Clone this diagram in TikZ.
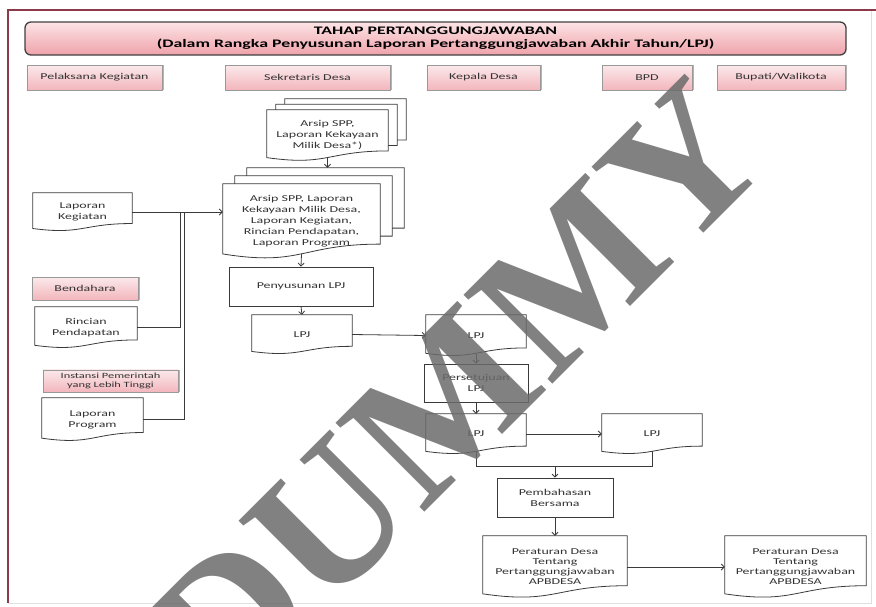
\documentclass[tikz,border=0pt]{standalone}
\usepackage{fontspec}
\setmainfont{Carlito}[FakeStretch=1.55]
\newfontfamily\markfont{Liberation Serif}
\usepackage{tikz}
\usetikzlibrary{shapes,arrows.meta,calc,shadows}

\definecolor{framered}{HTML}{8A3A48}
\definecolor{pinktop}{HTML}{FCE4E6}
\definecolor{pinkbot}{HTML}{EFA2AA}
\definecolor{lanetop}{HTML}{FBE9EB}
\definecolor{lanebot}{HTML}{F2B6BC}
\definecolor{edgegray}{HTML}{3A3A3A}

\tikzset{fontscale/.style = {font=\fontsize{9}{11}\selectfont, text=black!80}}
\tikzstyle{titlebar}=[rectangle, rounded corners=6pt, draw=black!75, line width=1.3pt, top color=pinktop, bottom color=pinkbot, align=center, font=\bfseries\fontsize{11.5}{13}\selectfont]
\tikzstyle{lane}=[rectangle, draw=black!40, top color=lanetop, bottom color=lanebot, minimum height=25pt, align=center, fontscale, drop shadow={shadow xshift=1.5pt, shadow yshift=0pt, opacity=0.6}]
\tikzstyle{docnode}=[rectangle, inner sep=1pt, align=center, fontscale]
\tikzstyle{proc}=[rectangle, draw=edgegray, line width=0.8pt, inner sep=1pt, align=center, fontscale]
\tikzstyle{docedge}=[draw=edgegray, line width=0.8pt]
\tikzstyle{watermark}=[text=black!58, text opacity=0.85, font=\markfont\bfseries\fontsize{192}{192}\selectfont]

% document outline round a named node
\newcommand{\docshape}[1]{%
  \coordinate (#1-r) at ($(#1.north east)!0.8!(#1.south east)$);
  \draw[docedge] (#1.north west) -- (#1.north east) -- (#1-r)
    .. controls ($(#1.north)!0.8!(#1.south)$) and ($(#1.north)!1.1!(#1.south)$) .. ($(#1.north west)!0.93!(#1.south west)$) -- cycle;
  \coordinate (#1-b) at ($(#1.north)!0.93!(#1.south)$);}

% two sheets behind a document
\newcommand{\docstack}[3]{%
  \foreach \k in {1,2} {
    \draw[docedge] ($(#1.north west)+({\k*#2},{-(\k-1)*#3})$) -- ($(#1.north west)+({\k*#2},{-\k*#3})$)
      -- ($(#1.north east)+({\k*#2},{-\k*#3})$) -- ($(#1-r)+({\k*#2},{-\k*#3})$)
      -- ($(#1-r)+({(\k-1)*#2},{-\k*#3})$);
  }
  \coordinate (#1-top) at ($(#1.north)+(0,{-2*#3})$);}

\begin{document}
\begin{tikzpicture}[x=1pt, y=-1pt, flow/.style={draw=edgegray, line width=0.8pt, -{Straight Barb[length=3pt,width=6pt]}}, wire/.style={draw=edgegray, line width=0.8pt}]

\useasboundingbox (0,0) rectangle (876,606);

% frame
\draw[gray!25, line width=1pt] (871,10) -- (871,603) -- (8,603);
\draw[framered, line width=1.5pt] (8,603) -- (8,10) -- (876,10);

% title and lanes
\node[titlebar, minimum width=821pt, minimum height=33pt] (title) at (435.5,38.5) {TAHAP PERTANGGUNGJAWABAN\\(Dalam Rangka Penyusunan Laporan Pertanggungjawaban Akhir Tahun/LPJ)};

\node[lane, minimum width=135pt] (lpk) at (94.5,77.5) {Pelaksana Kegiatan};
\node[lane, minimum width=165pt] (lsek) at (307.5,77.5) {Sekretaris Desa};
\node[lane, minimum width=113pt] (lkep) at (483.5,77.5) {Kepala Desa};
\node[lane, minimum width=90pt] (lbpd) at (647,77.5) {BPD};
\node[lane, minimum width=128pt] (lbup) at (781,77.5) {Bupati/Walikota};

\node[lane, minimum width=106pt, minimum height=23pt] (bendahara) at (85,288.5) {Bendahara};
\node[lane, minimum width=135pt, minimum height=22pt, font=\fontsize{8}{9}\selectfont] (instansi) at (110.5,381) {Instansi Pemerintah\\yang Lebih Tinggi};

% documents
\node[docnode, minimum width=99pt, minimum height=38pt] (kegiatan) at (82.5,212) {Laporan\\Kegiatan};
\docshape{kegiatan}
\node[docnode, minimum width=102pt, minimum height=41pt] (rincian) at (86,327.5) {Rincian\\Pendapatan};
\docshape{rincian}
\node[docnode, minimum width=101pt, minimum height=43pt] (program) at (92.5,419.5) {Laporan\\Program};
\docshape{program}

\node[docnode, minimum width=121pt, minimum height=51pt] (arsip1) at (327.5,135.5) {Arsip SPP,\\Laporan Kekayaan\\Milik Desa*)};
\docshape{arsip1}
\docstack{arsip1}{9}{5.5}
\node[docnode, minimum width=157pt, minimum height=75pt] (arsip2) at (301.5,221.5) {Arsip SPP, Laporan\\Kekayaan Milik Desa,\\Laporan Kegiatan,\\Rincian Pendapatan,\\Laporan Program};
\docshape{arsip2}
\docstack{arsip2}{12}{8}

\node[proc, minimum width=144pt, minimum height=39pt] (penyusun) at (301,286.5) {Penyusunan LPJ};
\node[docnode, minimum width=100pt, minimum height=39pt] (lpj1) at (302,334.5) {LPJ};
\docshape{lpj1}

\node[docnode, minimum width=100pt, minimum height=41pt] (lpj2) at (476,335.5) {LPJ};
\docshape{lpj2}
\node[proc, minimum width=104pt, minimum height=38pt] (setuju) at (476,383) {Persetujuan\\LPJ};
\node[docnode, minimum width=100pt, minimum height=40pt] (lpj3) at (476,434) {LPJ};
\docshape{lpj3}
\node[docnode, minimum width=100pt, minimum height=40pt] (lpj4) at (652,434) {LPJ};
\docshape{lpj4}

\node[proc, minimum width=116pt, minimum height=39pt] (bahas) at (555,497.5) {Pembahasan\\Bersama};
\node[docnode, minimum width=144pt, minimum height=62pt, font=\fontsize{9}{10}\selectfont] (perdes1) at (555,567) {Peraturan Desa\\Tentang\\Pertanggungjawaban\\APBDESA};
\docshape{perdes1}
\node[docnode, minimum width=141pt, minimum height=62pt, font=\fontsize{9}{10}\selectfont] (perdes2) at (795.5,567) {Peraturan Desa\\Tentang\\Pertanggungjawaban\\APBDESA};
\docshape{perdes2}

% joins
\coordinate (j1) at (180,212);
\coordinate (j2) at (184,212);
\coordinate (merge) at (555,466);

% links
\path[flow] (arsip1-b) -- (arsip1-b |- arsip2-top);
\path[flow] (kegiatan.east) -- (kegiatan.east -| arsip2.west);
\path[wire] (rincian.east) -| (j1);
\path[wire] (program.east) -| (j2);
\path[flow] (arsip2-b) -- (penyusun.north);
\path[flow] (penyusun.south) -- (lpj1.north);
\path[flow] (lpj1.east) -- (lpj2.west);
\path[flow] (lpj2-b) -- (setuju.north);
\path[flow] (setuju.south) -- (lpj3.north);
\path[flow] (lpj3.east) -- (lpj4.west);
\path[wire] (lpj3-b) -- (lpj3-b |- merge) -- (lpj4-b |- merge) -- (lpj4-b);
\path[flow] (merge) -- (bahas.north);
\path[flow] (bahas.south) -- (perdes1.north);
\path[flow] (perdes1.east) -- (perdes2.west);

% watermark
\node[watermark, rotate=45] (dummy) at (458,392) {DUMMY};
\end{tikzpicture}
\end{document}
